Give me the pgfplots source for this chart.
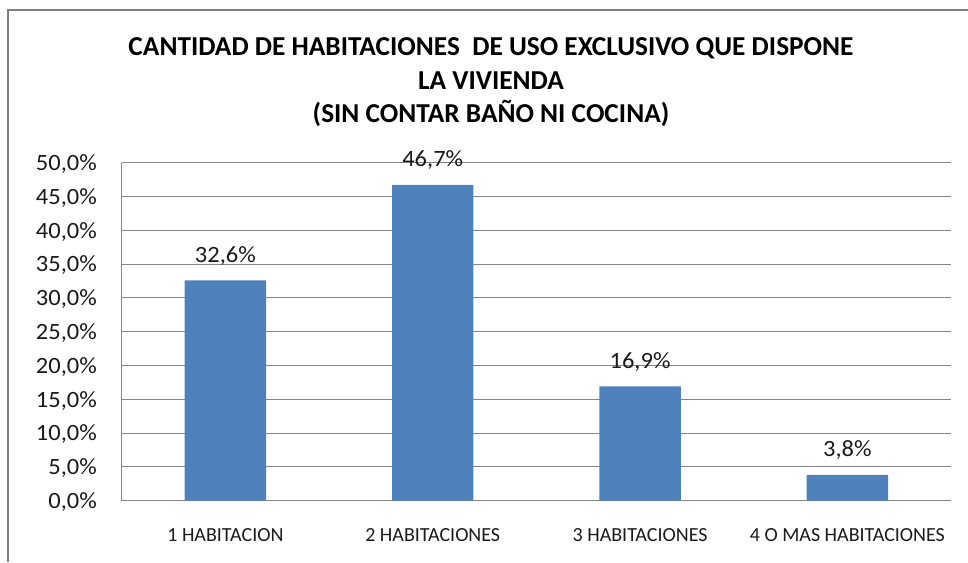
\documentclass[border=0pt]{standalone}
\usepackage{pgfplots}
\pgfplotsset{compat=1.18}
\usepackage{fontspec}
\setmainfont{Carlito}
\newfontfamily\numfont[FakeStretch=1.05]{Carlito}
\definecolor{barblue}{HTML}{4F81BD}
\definecolor{gridgray}{HTML}{868686}
\definecolor{framegray}{HTML}{808080}
\definecolor{txt}{HTML}{1A1A1A}
\begin{document}
\begin{tikzpicture}
\useasboundingbox (0pt,0pt) rectangle (726pt,421.5pt);
\draw[line width=1.5pt, framegray] (6pt,0pt) -- (6pt,414pt) -- (727pt,414pt);
\node[anchor=base, font=\fontsize{20.5}{24}\selectfont\bfseries] at (368.25pt,379.5pt) {CANTIDAD DE HABITACIONES\ \ DE USO EXCLUSIVO QUE DISPONE};
\node[anchor=base, font=\fontsize{20.5}{24}\selectfont\bfseries] at (368.25pt,354.75pt) {LA VIVIENDA};
\node[anchor=base, font=\fontsize{20.5}{24}\selectfont\bfseries] at (368.25pt,330pt) {(SIN CONTAR BAÑO NI COCINA)};
\begin{axis}[
  at={(91.3pt,46pt)}, anchor=south west,
  scale only axis, width=622pt, height=253.5pt,
  xmin=-0.5, xmax=3.5, ymin=0, ymax=50,
  ytick={0,5,...,50},
  xtick={0,1,2,3},
  xticklabels={1 HABITACION, 2 HABITACIONES, 3 HABITACIONES, 4 O MAS HABITACIONES},
  axis lines*=left,
  axis line style={draw=gridgray, line width=0.75pt, -},
  major tick length=0pt,
  ymajorgrids, grid style={draw=gridgray, line width=0.75pt},
  /pgf/number format/assume math mode=true,
  yticklabel={\pgfmathprintnumber[fixed,fixed zerofill,precision=1,use comma]{\tick}\%},
  yticklabel style={anchor=east, inner sep=0pt, xshift=-18.5pt, yshift=-1pt, text=txt, font=\numfont\fontsize{17.5}{20}\selectfont},
  xticklabel style={anchor=base, inner sep=0pt, yshift=-30.5pt, text=txt, font=\fontsize{15}{18}\selectfont},
  ybar, bar width=61.1pt,
  nodes near coords={\pgfmathprintnumber[fixed,fixed zerofill,precision=1,use comma]{\pgfplotspointmeta}\%},
  every node near coord/.append style={anchor=base, inner sep=0pt, yshift=13.5pt, font=\numfont\fontsize{17.5}{20}\selectfont, text=txt},
  clip=false,
]
\addplot[fill=barblue, draw=none] coordinates {(0,32.6) (1,46.7) (2,16.9) (3,3.8)};
\end{axis}
\end{tikzpicture}
\end{document}
